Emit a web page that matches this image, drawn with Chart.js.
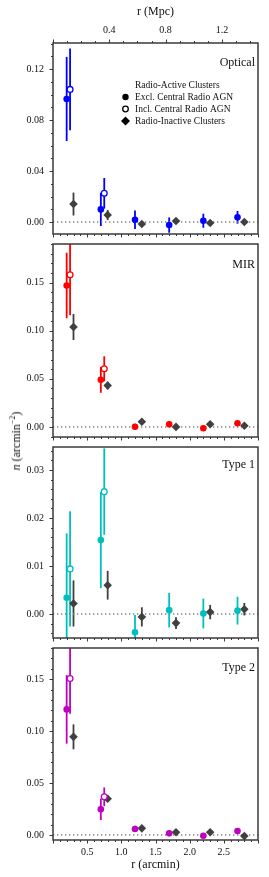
<!DOCTYPE html>
<html>
<head>
<meta charset="utf-8">
<script src="https://cdn.jsdelivr.net/npm/chart.js@4.4.1/dist/chart.umd.min.js"></script>
<style>
body { margin: 0; background: #fff; }
#wrap { position: relative; width: 269px; height: 877px; }
canvas { position: absolute; left: 0; }
#ylab { position: absolute; left: 16px; top: 441px; transform: translate(-50%, -50%) rotate(-90deg);
        font-family: 'Liberation Serif', serif; font-size: 12px; color: #111; white-space: nowrap; }
#ylab sup { font-size: 8px; }
</style>
</head>
<body>
<div id="wrap">
  <canvas id="p1" width="269" height="240" style="top:0px"></canvas>
  <canvas id="p2" width="269" height="203" style="top:240px"></canvas>
  <canvas id="p3" width="269" height="202" style="top:443px"></canvas>
  <canvas id="p4" width="269" height="232" style="top:645px"></canvas>
  <div id="ylab"><i>n</i> (arcmin<sup>&minus;2</sup>)</div>
</div>
<script>
// radial bins (arcmin), offset for each sample
var xExcl = [0.2, 0.7, 1.2, 1.7, 2.2, 2.7];
var xIncl = [0.25, 0.75];
var xInact = [0.3, 0.8, 1.3, 1.8, 2.3, 2.8];

// Optical
var optExcl = [0.0965, 0.0099, 0.0018, -0.0024, 0.0010, 0.0037];
var optExclErr = [0.033, 0.013, 0.0073, 0.006, 0.0055, 0.005];
var optIncl = [0.104, 0.0225];
var optInclErr = [0.032, 0.012];
var optInact = [0.0141, 0.0055, -0.0016, 0.0008, -0.0008, 0.0000];
var optInactErr = [0.009, 0.004, 0.002, 0.002, 0.002, 0.0015];

// MIR
var mirExcl = [0.1469, 0.049, 0.0003, 0.0028, -0.0013, 0.0038];
var mirExclErr = [0.034, 0.0135, 0.003, 0.003, 0.002, 0.002];
var mirIncl = [0.158, 0.0604];
var mirInclErr = [0.042, 0.013];
var mirInact = [0.1038, 0.043, 0.0055, 0.0001, 0.0028, 0.0013];
var mirInactErr = [0.0135, 0.004, 0.002, 0.0015, 0.0015, 0.0015];

// Type 1
var t1Excl = [0.0034, 0.0154, -0.0038, 0.0008, 0.0001, 0.0007];
var t1ExclErr = [0.0134, 0.010, 0.0036, 0.0036, 0.0031, 0.0029];
var t1Incl = [0.0094, 0.0255];
var t1InclErr = [0.012, 0.009];
var t1Inact = [0.0022, 0.006, -0.0006, -0.0019, 0.0004, 0.001];
var t1InactErr = [0.0048, 0.003, 0.002, 0.0012, 0.0015, 0.0013];

// Type 2
var t2Excl = [0.1209, 0.0247, 0.0058, 0.0016, -0.0007, 0.0038];
var t2ExclErr = [0.033, 0.0103, 0.003, 0.0015, 0.0012, 0.0015];
var t2Incl = [0.1507, 0.0368];
var t2InclErr = [0.034, 0.009];
var t2Inact = [0.0945, 0.0349, 0.0064, 0.0026, 0.0026, -0.001];
var t2InactErr = [0.012, 0.003, 0.002, 0.0015, 0.0015, 0.0015];

var mpcPerArcmin = 0.4854;
var FONT = "'Liberation Serif', serif";
var frameCol = '#3a3a3a';
var inactCol = '#404040';

function pts(xs, ys) {
    return xs.map(function(x, i) { return {x: x, y: ys[i]}; });
}

function steps(lo, hi, step) {
    var out = [];
    for (var i = Math.ceil(lo / step - 1e-9); i <= Math.floor(hi / step + 1e-9); i++) out.push(i * step);
    return out;
}

function isMajor(v, major) {
    return Math.abs(v / major - Math.round(v / major)) < 1e-6;
}

var errorBars = {
    id: 'errorBars',
    beforeDatasetsDraw: function(chart) {
        var c = chart.ctx, a = chart.chartArea;
        var xs = chart.scales.x, ys = chart.scales.y;
        c.save();
        c.beginPath();
        c.rect(a.left, a.top, a.right - a.left, a.bottom - a.top);
        c.clip();
        chart.data.datasets.forEach(function(ds) {
            if (!ds.errs) return;
            c.strokeStyle = ds.borderColor;
            c.lineWidth = 1.8;
            ds.data.forEach(function(p, j) {
                var px = xs.getPixelForValue(p.x);
                c.beginPath();
                c.moveTo(px, ys.getPixelForValue(p.y - ds.errs[j]));
                c.lineTo(px, ys.getPixelForValue(p.y + ds.errs[j]));
                c.stroke();
            });
        });
        c.restore();
    }
};

function makePanel(id, cfg) {
    var frame = {
        id: 'frame',
        afterDraw: function(chart) {
            var c = chart.ctx, a = chart.chartArea;
            var xs = chart.scales.x, ys = chart.scales.y;
            c.save();
            c.strokeStyle = frameCol;
            c.lineWidth = 1;
            steps(ys.min, ys.max, cfg.minor).forEach(function(v) {
                var py = Math.round(ys.getPixelForValue(v)) + 0.5;
                var len = isMajor(v, cfg.major) ? 3.5 : 2;
                c.beginPath(); c.moveTo(a.left, py); c.lineTo(a.left - len, py); c.stroke();
            });
            steps(0, 3, 0.1).forEach(function(v) {
                var px = Math.round(xs.getPixelForValue(v)) + 0.5;
                var len = isMajor(v, 0.5) ? 3.5 : 2;
                c.beginPath(); c.moveTo(px, a.bottom); c.lineTo(px, a.bottom + len); c.stroke();
            });
            if (chart.scales.x2) {
                var x2 = chart.scales.x2;
                steps(x2.min, x2.max, 0.1).forEach(function(v) {
                    var px = Math.round(x2.getPixelForValue(v)) + 0.5;
                    var len = isMajor(v, 0.4) ? 3.5 : 2;
                    c.beginPath(); c.moveTo(px, a.top); c.lineTo(px, a.top - len); c.stroke();
                });
            }
            c.lineWidth = 1.5;
            c.strokeRect(a.left, a.top, a.right - a.left, a.bottom - a.top);

            c.fillStyle = '#111';
            c.font = '12px ' + FONT;
            c.textAlign = 'right';
            c.textBaseline = 'middle';
            c.fillText(cfg.label, a.right - 3, a.top + cfg.labelDy);

            if (cfg.legend) {
                c.font = '9.5px ' + FONT;
                c.textAlign = 'left';
                c.fillText('Radio-Active Clusters', 135, 85);
                c.fillText('Excl. Central Radio AGN', 135, 97);
                c.fillText('Incl. Central Radio AGN', 135, 109);
                c.fillText('Radio-Inactive Clusters', 135, 121);
                c.fillStyle = '#000';
                c.beginPath(); c.arc(125.5, 97, 3.2, 0, 2 * Math.PI); c.fill();
                c.strokeStyle = '#000'; c.lineWidth = 1.3;
                c.beginPath(); c.arc(125.5, 109, 2.8, 0, 2 * Math.PI); c.stroke();
                c.beginPath();
                c.moveTo(125.5, 116.5); c.lineTo(130, 121); c.lineTo(125.5, 125.5); c.lineTo(121, 121);
                c.closePath(); c.fill();
            }
            c.restore();
        }
    };

    var scales = {
        x: {
            type: 'linear', min: 0, max: 3, display: cfg.bottomLabels,
            grid: {display: false, drawTicks: false}, border: {display: false},
            ticks: {stepSize: 0.5, includeBounds: false, padding: 6, color: '#111',
                    font: {family: FONT, size: 10},
                    callback: function(v) { return (v <= 0 || v >= 3) ? '' : v.toFixed(1); }},
            title: {display: true, text: 'r (arcmin)', color: '#111',
                    font: {family: FONT, size: 12}, padding: {top: 0, bottom: 5}},
            afterFit: function(s) {
                if (cfg.bottomLabels) s.height = 37;
                s.paddingLeft = 0; s.paddingRight = 0;
            }
        },
        y: {
            type: 'linear', min: cfg.ymin, max: cfg.ymax,
            grid: {display: false, drawTicks: false}, border: {display: false},
            ticks: {stepSize: cfg.major, includeBounds: false, padding: 9, color: '#111',
                    font: {family: FONT, size: 10},
                    callback: function(v) { return v.toFixed(2); }},
            afterFit: function(s) {
                s.width = 53;
                s.paddingTop = 0; s.paddingBottom = 0;
            }
        }
    };
    if (cfg.topAxis) {
        scales.x2 = {
            type: 'linear', position: 'top', min: 0, max: 3 * mpcPerArcmin,
            grid: {display: false, drawTicks: false}, border: {display: false},
            ticks: {stepSize: 0.4, includeBounds: false, padding: 7, color: '#111',
                    font: {family: FONT, size: 10},
                    callback: function(v) { return v <= 0 ? '' : v.toFixed(1); }},
            title: {display: true, text: 'r (Mpc)', color: '#111',
                    font: {family: FONT, size: 12}, padding: {top: 5, bottom: 0}},
            afterFit: function(s) {
                s.height = 43;
                s.paddingLeft = 0; s.paddingRight = 0;
            }
        };
    }

    new Chart(document.getElementById(id), {
        type: 'scatter',
        data: {
            datasets: [
                {data: pts(xIncl, cfg.incl), errs: cfg.inclErr, pointStyle: 'circle', pointRadius: 2.9,
                 backgroundColor: '#fff', borderColor: cfg.color, borderWidth: 1.3},
                {data: pts(xExcl, cfg.excl), errs: cfg.exclErr, pointStyle: 'circle', pointRadius: 3.3,
                 backgroundColor: cfg.color, borderColor: cfg.color, borderWidth: 0},
                {data: pts(xInact, cfg.inact), errs: cfg.inactErr, pointStyle: 'rectRot', pointRadius: 4.3,
                 backgroundColor: inactCol, borderColor: inactCol, borderWidth: 0},
                {type: 'line', data: [{x: 0, y: 0}, {x: 3, y: 0}], borderColor: '#808080', borderWidth: 1.3,
                 borderDash: [1.3, 2.7], pointRadius: 0}
            ]
        },
        options: {
            responsive: false,
            animation: false,
            layout: {autoPadding: false, padding: {left: 0, right: 11, top: cfg.padTop, bottom: cfg.padBottom}},
            plugins: {legend: {display: false}, tooltip: {enabled: false}},
            scales: scales
        },
        plugins: [errorBars, frame]
    });
}

makePanel('p1', {label: 'Optical', labelDy: 20, legend: true, topAxis: true, bottomLabels: false,
    color: '#0000ff', ymin: -0.0094, ymax: 0.1404, major: 0.04, minor: 0.01, padTop: 0, padBottom: 6,
    excl: optExcl, exclErr: optExclErr, incl: optIncl, inclErr: optInclErr, inact: optInact, inactErr: optInactErr});
makePanel('p2', {label: 'MIR', labelDy: 21, bottomLabels: false,
    color: '#ff0000', ymin: -0.0104, ymax: 0.19, major: 0.05, minor: 0.01, padTop: 4, padBottom: 6,
    excl: mirExcl, exclErr: mirExclErr, incl: mirIncl, inclErr: mirInclErr, inact: mirInact, inactErr: mirInactErr});
makePanel('p3', {label: 'Type 1', labelDy: 18, bottomLabels: false,
    color: '#00bfbf', ymin: -0.005, ymax: 0.0348, major: 0.01, minor: 0.002, padTop: 4, padBottom: 7,
    excl: t1Excl, exclErr: t1ExclErr, incl: t1Incl, inclErr: t1InclErr, inact: t1Inact, inactErr: t1InactErr});
makePanel('p4', {label: 'Type 2', labelDy: 20, bottomLabels: true,
    color: '#bf00bf', ymin: -0.0048, ymax: 0.18, major: 0.05, minor: 0.01, padTop: 3, padBottom: 0,
    excl: t2Excl, exclErr: t2ExclErr, incl: t2Incl, inclErr: t2InclErr, inact: t2Inact, inactErr: t2InactErr});
</script>
</body>
</html>
